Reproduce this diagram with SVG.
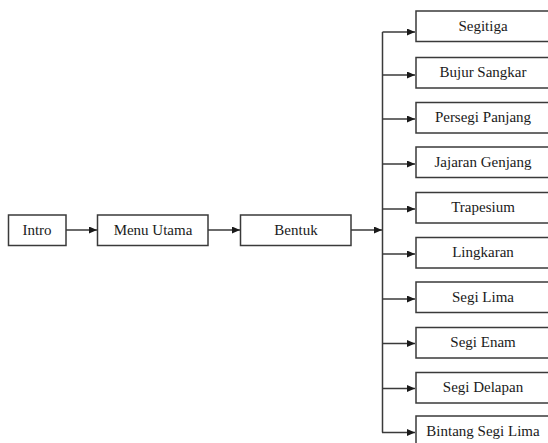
<svg xmlns="http://www.w3.org/2000/svg" width="548" height="443" viewBox="0 0 548 443">
<defs>
<marker id="ah" markerUnits="userSpaceOnUse" markerWidth="9" markerHeight="8" refX="8" refY="3.5" orient="auto">
<path d="M0,0 L8,3.5 L0,7 z" fill="#1a1a1a"/>
</marker>
</defs>
<rect width="548" height="443" fill="#fff"/>
<g id="connectors" fill="none" stroke="#3a3a3a" stroke-width="1.5">
<path d="M66,230 H97" marker-end="url(#ah)"/>
<path d="M208,230 H240" marker-end="url(#ah)"/>
<path d="M351,230 H382" marker-end="url(#ah)"/>
<path d="M382.5,32 V432.5"/>
<path d="M382.5,32 H415" marker-end="url(#ah)"/>
<path d="M382.5,75 H415" marker-end="url(#ah)"/>
<path d="M382.5,119 H415" marker-end="url(#ah)"/>
<path d="M382.5,164 H415" marker-end="url(#ah)"/>
<path d="M382.5,209 H415" marker-end="url(#ah)"/>
<path d="M382.5,254 H415" marker-end="url(#ah)"/>
<path d="M382.5,299 H415" marker-end="url(#ah)"/>
<path d="M382.5,343.5 H415" marker-end="url(#ah)"/>
<path d="M382.5,388.5 H415" marker-end="url(#ah)"/>
<path d="M382,432.5 H415" marker-end="url(#ah)"/>
</g>
<g id="nodes" fill="#fff" stroke="#3a3a3a" stroke-width="1.5">
<g id="intro"><rect x="8.5" y="215" width="57.5" height="30.5"/><text x="37" y="234.5" font-family="Liberation Serif" font-size="15" text-anchor="middle" fill="#1a1a1a" stroke="none">Intro</text></g>
<g id="menu-utama"><rect x="97.5" y="215" width="110.5" height="30.5"/><text x="153" y="234.5" font-family="Liberation Serif" font-size="15" text-anchor="middle" fill="#1a1a1a" stroke="none">Menu Utama</text></g>
<g id="bentuk"><rect x="240.5" y="215" width="110.5" height="30.5"/><text x="296" y="234.5" font-family="Liberation Serif" font-size="15" text-anchor="middle" fill="#1a1a1a" stroke="none">Bentuk</text></g>
<g id="segitiga"><rect x="416" y="11" width="134" height="30.5"/><text x="483" y="30.5" font-family="Liberation Serif" font-size="15" text-anchor="middle" fill="#1a1a1a" stroke="none">Segitiga</text></g>
<g id="bujur-sangkar"><rect x="416" y="57.5" width="134" height="30.5"/><text x="483" y="77" font-family="Liberation Serif" font-size="15" text-anchor="middle" fill="#1a1a1a" stroke="none">Bujur Sangkar</text></g>
<g id="persegi-panjang"><rect x="416" y="102.5" width="134" height="30.5"/><text x="483" y="122" font-family="Liberation Serif" font-size="15" text-anchor="middle" fill="#1a1a1a" stroke="none">Persegi Panjang</text></g>
<g id="jajaran-genjang"><rect x="416" y="147" width="134" height="30.5"/><text x="483" y="166.5" font-family="Liberation Serif" font-size="15" text-anchor="middle" fill="#1a1a1a" stroke="none">Jajaran Genjang</text></g>
<g id="trapesium"><rect x="416" y="192.5" width="134" height="30.5"/><text x="483" y="212" font-family="Liberation Serif" font-size="15" text-anchor="middle" fill="#1a1a1a" stroke="none">Trapesium</text></g>
<g id="lingkaran"><rect x="416" y="237.5" width="134" height="30.5"/><text x="483" y="257" font-family="Liberation Serif" font-size="15" text-anchor="middle" fill="#1a1a1a" stroke="none">Lingkaran</text></g>
<g id="segi-lima"><rect x="416" y="282" width="134" height="30.5"/><text x="483" y="301.5" font-family="Liberation Serif" font-size="15" text-anchor="middle" fill="#1a1a1a" stroke="none">Segi Lima</text></g>
<g id="segi-enam"><rect x="416" y="327.5" width="134" height="30.5"/><text x="483" y="347" font-family="Liberation Serif" font-size="15" text-anchor="middle" fill="#1a1a1a" stroke="none">Segi Enam</text></g>
<g id="segi-delapan"><rect x="416" y="372.5" width="134" height="30.5"/><text x="483" y="392" font-family="Liberation Serif" font-size="15" text-anchor="middle" fill="#1a1a1a" stroke="none">Segi Delapan</text></g>
<g id="bintang-segi-lima"><rect x="416" y="416" width="134" height="32"/><text x="483" y="435.5" font-family="Liberation Serif" font-size="15" text-anchor="middle" fill="#1a1a1a" stroke="none">Bintang Segi Lima</text></g>
</g>
</svg>
